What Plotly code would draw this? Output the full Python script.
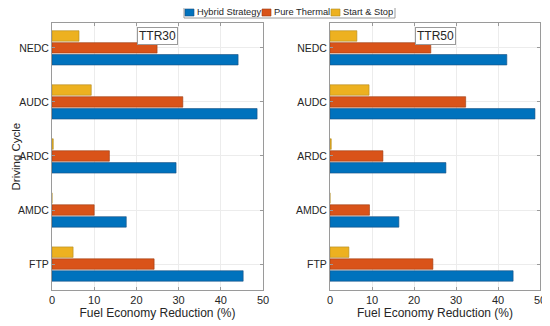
import plotly.graph_objects as go

cycles = ["FTP", "AMDC", "ARDC", "AUDC", "NEDC"]
series_names = ["Hybrid Strategy", "Pure Thermal", "Start & Stop"]

ttr30_hybrid = [45.3, 17.6, 29.4, 48.6, 44.1]
ttr30_thermal = [24.2, 10.0, 13.6, 31.0, 24.9]
ttr30_startstop = [5.0, 0.0, 0.3, 9.3, 6.4]

ttr50_hybrid = [43.6, 16.4, 27.6, 48.8, 42.1]
ttr50_thermal = [24.5, 9.4, 12.6, 32.3, 24.0]
ttr50_startstop = [4.5, 0.0, 0.3, 9.3, 6.4]

panel_titles = ["TTR30", "TTR50"]
x_ticks = [0, 10, 20, 30, 40, 50]

colors = ["#0072BD", "#D95319", "#EDB120"]
edges = ["#1a4f80", "#9a3a10", "#b08a20"]

# page has an 8px body margin; compensate so the figure lands where intended
OFF = 8
W, H = 550 - OFF, 326 - OFF
ML, MT = 52 - OFF, 23 - OFF
MR = W - (540 - OFF)
MB = H - (290 - OFF)
PW = W - ML - MR
PH = H - MT - MB

fig = go.Figure()

panels = [
    ("x", "y", [ttr30_hybrid, ttr30_thermal, ttr30_startstop]),
    ("x2", "y2", [ttr50_hybrid, ttr50_thermal, ttr50_startstop]),
]
for pi, (xa, ya, data) in enumerate(panels):
    for si, vals in enumerate(data):
        fig.add_trace(go.Bar(
            y=cycles, x=vals, orientation="h", name=series_names[si],
            marker=dict(color=colors[si], line=dict(color=edges[si], width=0.6)),
            xaxis=xa, yaxis=ya, showlegend=False,
            offsetgroup=str(si),
        ))

fam = "Liberation Sans, Arial, sans-serif"
font = dict(family=fam, size=11, color="#262626")
yfont = dict(family=fam, size=10.5, color="#262626")
tfont = dict(family=fam, size=12, color="#262626")
axis_common = dict(
    showline=True, linecolor="#9a9a9a", linewidth=1, mirror="ticks",
    ticks="inside", ticklen=3, tickcolor="#9a9a9a",
    gridcolor="#ececec", gridwidth=1, zeroline=False,
    automargin=False,
)
def px(xp):
    return (xp - OFF - ML) / PW
def py(yp):
    return (H - MB - (yp - OFF)) / PH

fig.update_layout(
    width=W, height=H,
    margin=dict(l=ML, r=MR, t=MT, b=MB),
    paper_bgcolor="white", plot_bgcolor="white",
    barmode="group", bargap=0.34, bargroupgap=0.12,
    font=font,
    showlegend=False,
    xaxis=dict(domain=[0, px(263)], range=[0, 50], tickvals=x_ticks, anchor="y", tickfont=font,
               title=dict(text="Fuel Economy Reduction (%)", font=tfont, standoff=1), **axis_common),
    xaxis2=dict(domain=[px(330), 1.0], range=[0, 50], tickvals=x_ticks, anchor="y2", tickfont=font,
                title=dict(text="Fuel Economy Reduction (%)", font=tfont, standoff=1), **axis_common),
    yaxis=dict(domain=[0, 1], range=[-0.48, 4.46], anchor="x", tickfont=yfont, **axis_common),
    yaxis2=dict(domain=[0, 1], range=[-0.48, 4.46], anchor="x2", tickfont=yfont, **axis_common),
)

# y-axis title placed explicitly at the left edge of the figure
fig.add_annotation(xref="paper", yref="paper", x=px(OFF), y=0.5,
                   xanchor="left", yanchor="middle", textangle=-90,
                   text="Driving Cycle", showarrow=False, borderpad=0,
                   font=dict(family=fam, size=11.5, color="#262626"))

for i, (xa, t) in enumerate(zip(["x", "x2"], panel_titles)):
    fig.add_annotation(
        xref=f"{xa} domain", yref="y domain" if i == 0 else "y2 domain",
        x=0.5, y=py(27), xanchor="center", yanchor="top",
        text=t, showarrow=False, font=tfont,
        bordercolor="#9a9a9a", borderwidth=1, borderpad=1, bgcolor="white",
    )

# compact legend box drawn at the top centre
fig.add_shape(type="rect", xref="paper", yref="paper",
              x0=px(184), x1=px(395), y0=py(18), y1=py(5),
              line=dict(color="#9a9a9a", width=1), fillcolor="white", layer="above")
leg_x = [185, 262, 331]
for si, name in enumerate(series_names):
    fig.add_shape(type="rect", xref="paper", yref="paper",
                  x0=px(leg_x[si]), x1=px(leg_x[si] + 9), y0=py(16), y1=py(9),
                  line=dict(color=edges[si], width=0.6), fillcolor=colors[si], layer="above")
    fig.add_annotation(xref="paper", yref="paper", x=px(leg_x[si] + 9.5), y=py(11.5),
                       xanchor="left", yanchor="middle", text=name, showarrow=False,
                       font=dict(family=fam, size=9.3, color="#262626"))

fig.write_html("out.html")
